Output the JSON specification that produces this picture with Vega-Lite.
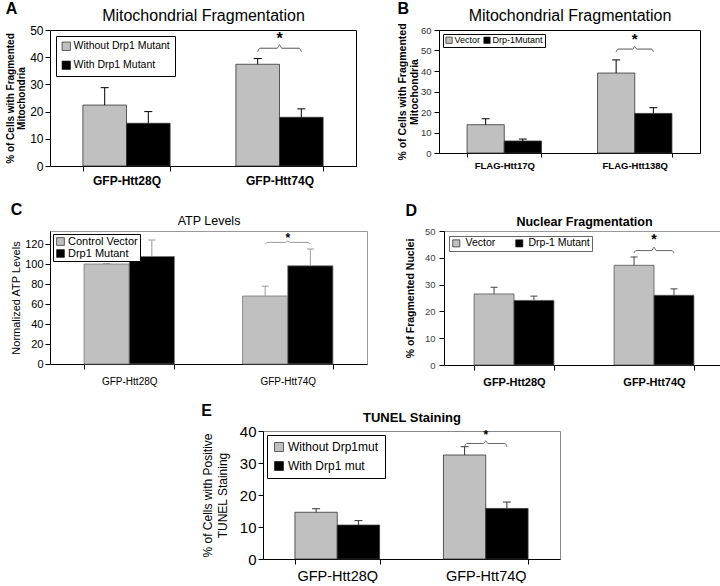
{
  "$schema": "https://vega.github.io/schema/vega-lite/v6.json",
  "padding": {"left": 5, "top": 0, "right": 0, "bottom": 0},
  "background": "#ffffff",
  "config": {
    "font": "Liberation Sans",
    "axis": {"grid": false, "labelOverlap": false, "labelBound": false, "labelColor": "#000", "titleColor": "#000", "domainColor": "#000", "tickColor": "#000", "labelFont": "Liberation Sans", "titleFont": "Liberation Sans"},
    "legend": {"labelColor": "#000", "labelFont": "Liberation Sans"},
    "title": {"color": "#000", "font": "Liberation Sans"},
    "view": {"stroke": "#000"}
  },
  "datasets": {
    "A": [
      {"g": "GFP-Htt28Q", "s": "Without Drp1 Mutant", "v": 22.4, "hi": 28.8},
      {"g": "GFP-Htt28Q", "s": "With Drp1 Mutant", "v": 15.7, "hi": 20.0},
      {"g": "GFP-Htt74Q", "s": "Without Drp1 Mutant", "v": 37.4, "hi": 39.5},
      {"g": "GFP-Htt74Q", "s": "With Drp1 Mutant", "v": 17.9, "hi": 21.0}
    ],
    "braceA": [
      {"x": 1.3575, "y": 42}, {"x": 1.372, "y": 43.3}, {"x": 1.485, "y": 43.3}, {"x": 1.5, "y": 44.5}, {"x": 1.515, "y": 43.3}, {"x": 1.628, "y": 43.3}, {"x": 1.6425, "y": 42}
    ],
    "starA": [{"x": 1.5, "y": 46.7, "t": "*"}],
    "B": [
      {"g": "FLAG-Htt17Q", "s": "Vector", "v": 13.8, "hi": 16.7},
      {"g": "FLAG-Htt17Q", "s": "Drp-1Mutant", "v": 5.85, "hi": 6.8},
      {"g": "FLAG-Htt138Q", "s": "Vector", "v": 39.0, "hi": 45.4},
      {"g": "FLAG-Htt138Q", "s": "Drp-1Mutant", "v": 19.3, "hi": 22.1}
    ],
    "braceB": [
      {"x": 1.3575, "y": 49.4}, {"x": 1.372, "y": 50.7}, {"x": 1.485, "y": 50.7}, {"x": 1.5, "y": 52}, {"x": 1.515, "y": 50.7}, {"x": 1.628, "y": 50.7}, {"x": 1.6425, "y": 49.4}
    ],
    "starB": [{"x": 1.5, "y": 55.6, "t": "*"}],
    "C": [
      {"g": "GFP-Htt28Q", "s": "Control Vector", "v": 100, "hi": 100.5},
      {"g": "GFP-Htt28Q", "s": "Drp1 Mutant", "v": 107.5, "hi": 124},
      {"g": "GFP-Htt74Q", "s": "Control Vector", "v": 68, "hi": 77.8},
      {"g": "GFP-Htt74Q", "s": "Drp1 Mutant", "v": 98.2, "hi": 115}
    ],
    "braceC": [
      {"x": 1.3575, "y": 120}, {"x": 1.372, "y": 121.6}, {"x": 1.485, "y": 121.6}, {"x": 1.5, "y": 123}, {"x": 1.515, "y": 121.6}, {"x": 1.628, "y": 121.6}, {"x": 1.6425, "y": 120}
    ],
    "starC": [{"x": 1.5, "y": 126.5, "t": "*"}],
    "D": [
      {"g": "GFP-Htt28Q", "s": "Vector", "v": 26.5, "hi": 29.0},
      {"g": "GFP-Htt28Q", "s": "Drp-1 Mutant", "v": 24.1, "hi": 25.7},
      {"g": "GFP-Htt74Q", "s": "Vector", "v": 37.2, "hi": 40.3},
      {"g": "GFP-Htt74Q", "s": "Drp-1 Mutant", "v": 26.0, "hi": 28.4}
    ],
    "braceD": [
      {"x": 1.3575, "y": 41.8}, {"x": 1.372, "y": 42.7}, {"x": 1.485, "y": 42.7}, {"x": 1.5, "y": 44}, {"x": 1.515, "y": 42.7}, {"x": 1.628, "y": 42.7}, {"x": 1.6425, "y": 41.8}
    ],
    "starD": [{"x": 1.5, "y": 46.6, "t": "*"}],
    "E": [
      {"g": "GFP-Htt28Q", "s": "Without Drp1mut", "v": 14.6, "hi": 15.7},
      {"g": "GFP-Htt28Q", "s": "With Drp1 mut", "v": 10.6, "hi": 12.0},
      {"g": "GFP-Htt74Q", "s": "Without Drp1mut", "v": 32.5, "hi": 35.1},
      {"g": "GFP-Htt74Q", "s": "With Drp1 mut", "v": 15.8, "hi": 17.8}
    ],
    "braceE": [
      {"x": 1.3575, "y": 35.1}, {"x": 1.372, "y": 36.1}, {"x": 1.485, "y": 36.1}, {"x": 1.5, "y": 36.9}, {"x": 1.515, "y": 36.1}, {"x": 1.628, "y": 36.1}, {"x": 1.6425, "y": 35.1}
    ],
    "starE": [{"x": 1.5, "y": 38.8, "t": "*"}]
  },
  "resolve": {"scale": {"color": "independent", "xOffset": "independent"}, "legend": {"color": "independent"}},
  "spacing": 14,
  "vconcat": [
    {
      "spacing": 39,
      "resolve": {"scale": {"color": "independent", "xOffset": "independent"}, "legend": {"color": "independent"}},
      "hconcat": [
        {
          "title": {"text": "A", "anchor": "start", "frame": "bounds", "fontSize": 16, "fontWeight": "bold", "offset": -10},
          "width": 306, "height": 136,
          "view": {"stroke": "#000"},
          "resolve": {"scale": {"x": "independent"}},
          "layer": [
            {
              "data": {"name": "A"},
              "encoding": {
                "x": {"field": "g", "type": "nominal", "sort": null, "scale": {"paddingInner": 0.43, "paddingOuter": 0.215}, "axis": {"title": null, "tickBand": "extent", "labelAngle": 0, "labelFontSize": 12, "labelFontWeight": "bold", "tickSize": 5, "labelPadding": 4}},
                "xOffset": {"field": "s", "type": "nominal", "sort": null, "scale": {"paddingInner": 0, "paddingOuter": 0}}
              },
              "layer": [
                {"mark": {"type": "bar", "stroke": "#333", "strokeWidth": 0.8},
                 "encoding": {
                   "y": {"field": "v", "type": "quantitative", "scale": {"domain": [0, 50], "nice": false}, "axis": {"values": [0, 10, 20, 30, 40, 50], "tickCount": 20, "labelOverlap": false, "title": ["% of Cells with Fragmented", "Mitochondria"], "titleFontSize": 10, "titleFontWeight": "bold", "titleLineHeight": 11, "titlePadding": 3, "labelFontSize": 12, "labelPadding": 2, "tickSize": 5}},
                   "color": {"field": "s", "type": "nominal", "sort": null, "scale": {"range": ["#c0c0c0", "#000000"]}, "legend": {"title": null, "orient": "top-left", "offset": 6, "strokeColor": "#000", "fillColor": "#fff", "padding": 5, "symbolType": "square", "symbolSize": 70, "symbolStrokeColor": "#000", "symbolStrokeWidth": 0.6, "labelFontSize": 10.5, "rowPadding": 7, "labelOffset": 2}}
                 }},
                {"mark": {"type": "rule", "color": "#000"}, "encoding": {"y": {"field": "v", "type": "quantitative"}, "y2": {"field": "hi"}}},
                {"mark": {"type": "point", "shape": "M-1,0H1", "size": 64, "stroke": "#000", "strokeWidth": 1, "opacity": 1}, "encoding": {"y": {"field": "hi", "type": "quantitative"}}}
              ]
            },
            {
              "encoding": {"x": {"field": "x", "type": "quantitative", "scale": {"domain": [0, 2], "nice": false, "zero": false}, "axis": {"orient": "top", "title": "Mitochondrial Fragmentation", "domain": false, "ticks": false, "labels": false, "titleFontSize": 16, "titleFontWeight": "normal", "titlePadding": 7}}},
              "layer": [
                {"data": {"name": "braceA"}, "mark": {"type": "line", "interpolate": "monotone", "stroke": "#555", "strokeWidth": 1}, "encoding": {"y": {"field": "y", "type": "quantitative"}}},
                {"data": {"name": "starA"}, "mark": {"type": "text", "fontSize": 16, "fontWeight": "bold", "baseline": "middle"}, "encoding": {"y": {"field": "y", "type": "quantitative"}, "text": {"field": "t"}}}
              ]
            }
          ]
        },
        {
          "title": {"text": "B", "anchor": "start", "frame": "bounds", "fontSize": 16, "fontWeight": "bold", "offset": -10},
          "width": 261, "height": 123,
          "view": {"stroke": "#000"},
          "resolve": {"scale": {"x": "independent"}},
          "layer": [
            {
              "data": {"name": "B"},
              "encoding": {
                "x": {"field": "g", "type": "nominal", "sort": null, "scale": {"paddingInner": 0.43, "paddingOuter": 0.215}, "axis": {"title": null, "tickBand": "extent", "labelAngle": 0, "labelFontSize": 9.5, "labelFontWeight": "bold", "tickSize": 4, "labelPadding": 3}},
                "xOffset": {"field": "s", "type": "nominal", "sort": null, "scale": {"paddingInner": 0, "paddingOuter": 0}}
              },
              "layer": [
                {"mark": {"type": "bar", "stroke": "#333", "strokeWidth": 0.8},
                 "encoding": {
                   "y": {"field": "v", "type": "quantitative", "scale": {"domain": [0, 60], "nice": false}, "axis": {"values": [0, 10, 20, 30, 40, 50, 60], "tickCount": 20, "labelOverlap": false, "title": ["% of Cells with Fragmented", "Mitochondria"], "titleFontSize": 10.5, "titleFontWeight": "bold", "titleLineHeight": 12, "titlePadding": 1, "labelFontSize": 9.5, "labelColor": "#333", "labelPadding": 3, "tickSize": 5}},
                   "color": {"field": "s", "type": "nominal", "sort": null, "scale": {"range": ["#c0c0c0", "#000000"]}, "legend": {"title": null, "orient": "top-left", "offset": 4, "direction": "horizontal", "strokeColor": "#000", "fillColor": "#fff", "padding": 1.5, "symbolType": "square", "symbolSize": 40, "symbolStrokeColor": "#000", "symbolStrokeWidth": 0.6, "labelFontSize": 9, "columnPadding": 2, "labelOffset": 1}}
                 }},
                {"mark": {"type": "rule", "color": "#000"}, "encoding": {"y": {"field": "v", "type": "quantitative"}, "y2": {"field": "hi"}}},
                {"mark": {"type": "point", "shape": "M-1,0H1", "size": 64, "stroke": "#000", "strokeWidth": 1, "opacity": 1}, "encoding": {"y": {"field": "hi", "type": "quantitative"}}}
              ]
            },
            {
              "encoding": {"x": {"field": "x", "type": "quantitative", "scale": {"domain": [0, 2], "nice": false, "zero": false}, "axis": {"orient": "top", "title": "Mitochondrial Fragmentation", "domain": false, "ticks": false, "labels": false, "titleFontSize": 16, "titleFontWeight": "normal", "titlePadding": 7}}},
              "layer": [
                {"data": {"name": "braceB"}, "mark": {"type": "line", "interpolate": "monotone", "stroke": "#555", "strokeWidth": 1}, "encoding": {"y": {"field": "y", "type": "quantitative"}}},
                {"data": {"name": "starB"}, "mark": {"type": "text", "fontSize": 15, "fontWeight": "bold", "baseline": "middle"}, "encoding": {"y": {"field": "y", "type": "quantitative"}, "text": {"field": "t"}}}
              ]
            }
          ]
        }
      ]
    },
    {
      "spacing": 36,
      "resolve": {"scale": {"color": "independent", "xOffset": "independent"}, "legend": {"color": "independent"}},
      "hconcat": [
        {
          "title": {"text": "C", "anchor": "start", "frame": "bounds", "fontSize": 16, "fontWeight": "bold", "offset": -4},
          "width": 317, "height": 133,
          "view": {"stroke": "#999"},
          "resolve": {"scale": {"x": "independent"}},
          "layer": [
            {
              "data": {"name": "C"},
              "encoding": {
                "x": {"field": "g", "type": "nominal", "sort": null, "scale": {"paddingInner": 0.43, "paddingOuter": 0.215}, "axis": {"title": null, "tickBand": "extent", "labelAngle": 0, "labelFontSize": 10, "labelFontWeight": "normal", "tickSize": 5, "labelPadding": 7}},
                "xOffset": {"field": "s", "type": "nominal", "sort": null, "scale": {"paddingInner": 0, "paddingOuter": 0}}
              },
              "layer": [
                {"mark": {"type": "bar", "stroke": "#777", "strokeWidth": 0.8},
                 "encoding": {
                   "y": {"field": "v", "type": "quantitative", "scale": {"domain": [0, 133], "nice": false}, "axis": {"values": [0, 20, 40, 60, 80, 100, 120], "tickCount": 20, "labelOverlap": false, "title": "Normalized ATP Levels", "titleFontSize": 11, "titleFontWeight": "normal", "titlePadding": 3, "labelFontSize": 11, "labelPadding": 2, "tickSize": 5}},
                   "color": {"field": "s", "type": "nominal", "sort": null, "scale": {"range": ["#c0c0c0", "#000000"]}, "legend": {"title": null, "orient": "top-left", "offset": 3, "strokeColor": "#000", "fillColor": "#fff", "padding": 2, "symbolType": "square", "symbolSize": 60, "symbolStrokeColor": "#000", "symbolStrokeWidth": 0.6, "labelFontSize": 11, "rowPadding": 0, "labelOffset": 2}}
                 }},
                {"mark": {"type": "rule", "color": "#999"}, "encoding": {"y": {"field": "v", "type": "quantitative"}, "y2": {"field": "hi"}}},
                {"mark": {"type": "point", "shape": "M-1,0H1", "size": 49, "stroke": "#999", "strokeWidth": 1, "opacity": 1}, "encoding": {"y": {"field": "hi", "type": "quantitative"}}}
              ]
            },
            {
              "encoding": {"x": {"field": "x", "type": "quantitative", "scale": {"domain": [0, 2], "nice": false, "zero": false}, "axis": {"orient": "top", "title": "ATP Levels", "domain": false, "ticks": false, "labels": false, "titleFontSize": 12.5, "titleFontWeight": "normal", "titlePadding": 4}}},
              "layer": [
                {"data": {"name": "braceC"}, "mark": {"type": "line", "interpolate": "monotone", "stroke": "#999", "strokeWidth": 1}, "encoding": {"y": {"field": "y", "type": "quantitative"}}},
                {"data": {"name": "starC"}, "mark": {"type": "text", "fontSize": 12, "fontWeight": "bold", "baseline": "middle"}, "encoding": {"y": {"field": "y", "type": "quantitative"}, "text": {"field": "t"}}}
              ]
            }
          ]
        },
        {
          "title": {"text": "D", "anchor": "start", "frame": "bounds", "fontSize": 16, "fontWeight": "bold", "offset": -4},
          "width": 280, "height": 134,
          "view": {"stroke": "#999"},
          "resolve": {"scale": {"x": "independent"}},
          "layer": [
            {
              "data": {"name": "D"},
              "encoding": {
                "x": {"field": "g", "type": "nominal", "sort": null, "scale": {"paddingInner": 0.43, "paddingOuter": 0.215}, "axis": {"title": null, "tickBand": "extent", "labelAngle": 0, "labelFontSize": 11, "labelFontWeight": "bold", "tickSize": 5, "labelPadding": 6}},
                "xOffset": {"field": "s", "type": "nominal", "sort": null, "scale": {"paddingInner": 0, "paddingOuter": 0}}
              },
              "layer": [
                {"mark": {"type": "bar", "stroke": "#555", "strokeWidth": 0.8},
                 "encoding": {
                   "y": {"field": "v", "type": "quantitative", "scale": {"domain": [0, 50], "nice": false}, "axis": {"values": [0, 10, 20, 30, 40, 50], "tickCount": 20, "labelOverlap": false, "title": "% of Fragmented Nuclei", "titleFontSize": 10.5, "titleFontWeight": "bold", "titlePadding": 9, "labelFontSize": 9.5, "labelColor": "#444", "labelPadding": 4, "tickSize": 5}},
                   "color": {"field": "s", "type": "nominal", "sort": null, "scale": {"range": ["#c0c0c0", "#000000"]}, "legend": {"title": null, "orient": "top-left", "offset": 5, "direction": "horizontal", "strokeColor": "#666", "fillColor": "#fff", "padding": 2, "symbolType": "square", "symbolSize": 50, "symbolStrokeColor": "#000", "symbolStrokeWidth": 0.6, "labelFontSize": 10.5, "columnPadding": 18, "labelOffset": 4}}
                 }},
                {"mark": {"type": "rule", "color": "#444"}, "encoding": {"y": {"field": "v", "type": "quantitative"}, "y2": {"field": "hi"}}},
                {"mark": {"type": "point", "shape": "M-1,0H1", "size": 49, "stroke": "#444", "strokeWidth": 1, "opacity": 1}, "encoding": {"y": {"field": "hi", "type": "quantitative"}}}
              ]
            },
            {
              "encoding": {"x": {"field": "x", "type": "quantitative", "scale": {"domain": [0, 2], "nice": false, "zero": false}, "axis": {"orient": "top", "title": "Nuclear Fragmentation", "domain": false, "ticks": false, "labels": false, "titleFontSize": 12.5, "titleFontWeight": "bold", "titlePadding": 3}}},
              "layer": [
                {"data": {"name": "braceD"}, "mark": {"type": "line", "interpolate": "monotone", "stroke": "#666", "strokeWidth": 1}, "encoding": {"y": {"field": "y", "type": "quantitative"}}},
                {"data": {"name": "starD"}, "mark": {"type": "text", "fontSize": 14, "fontWeight": "bold", "baseline": "middle"}, "encoding": {"y": {"field": "y", "type": "quantitative"}, "text": {"field": "t"}}}
              ]
            }
          ]
        }
      ]
    },
    {
      "spacing": 10,
      "resolve": {"scale": {"color": "independent", "xOffset": "independent"}, "legend": {"color": "independent"}},
      "hconcat": [
        {
          "width": 140, "height": 10,
          "view": {"stroke": null},
          "data": {"values": [{"t": ""}]},
          "mark": {"type": "text"},
          "encoding": {"text": {"field": "t"}}
        },
        {
          "title": {"text": "E", "anchor": "start", "frame": "bounds", "fontSize": 16, "fontWeight": "bold", "offset": -8},
          "width": 297, "height": 128,
          "view": {"stroke": "#888"},
          "resolve": {"scale": {"x": "independent"}},
          "layer": [
            {
              "data": {"name": "E"},
              "encoding": {
                "x": {"field": "g", "type": "nominal", "sort": null, "scale": {"paddingInner": 0.43, "paddingOuter": 0.215}, "axis": {"title": null, "tickBand": "extent", "labelAngle": 0, "labelFontSize": 14.5, "labelFontWeight": "normal", "tickSize": 5, "labelPadding": 5}},
                "xOffset": {"field": "s", "type": "nominal", "sort": null, "scale": {"paddingInner": 0, "paddingOuter": 0}}
              },
              "layer": [
                {"mark": {"type": "bar", "stroke": "#333", "strokeWidth": 0.8},
                 "encoding": {
                   "y": {"field": "v", "type": "quantitative", "scale": {"domain": [0, 40], "nice": false}, "axis": {"values": [0, 10, 20, 30, 40], "tickCount": 20, "labelOverlap": false, "title": ["% of Cells with Positive", "TUNEL Staining"], "titleFontSize": 12, "titleFontWeight": "normal", "titleLineHeight": 15, "titlePadding": 10, "labelFontSize": 15, "labelPadding": 2, "tickSize": 5}},
                   "color": {"field": "s", "type": "nominal", "sort": null, "scale": {"range": ["#c0c0c0", "#000000"]}, "legend": {"title": null, "orient": "top-left", "offset": 4, "strokeColor": "#000", "fillColor": "#fff", "padding": 6, "symbolType": "square", "symbolSize": 80, "symbolStrokeColor": "#000", "symbolStrokeWidth": 0.6, "labelFontSize": 12, "rowPadding": 7, "labelOffset": 3}}
                 }},
                {"mark": {"type": "rule", "color": "#333"}, "encoding": {"y": {"field": "v", "type": "quantitative"}, "y2": {"field": "hi"}}},
                {"mark": {"type": "point", "shape": "M-1,0H1", "size": 64, "stroke": "#333", "strokeWidth": 1, "opacity": 1}, "encoding": {"y": {"field": "hi", "type": "quantitative"}}}
              ]
            },
            {
              "encoding": {"x": {"field": "x", "type": "quantitative", "scale": {"domain": [0, 2], "nice": false, "zero": false}, "axis": {"orient": "top", "title": "TUNEL Staining", "domain": false, "ticks": false, "labels": false, "titleFontSize": 13, "titleFontWeight": "bold", "titlePadding": 7}}},
              "layer": [
                {"data": {"name": "braceE"}, "mark": {"type": "line", "interpolate": "monotone", "stroke": "#666", "strokeWidth": 1}, "encoding": {"y": {"field": "y", "type": "quantitative"}}},
                {"data": {"name": "starE"}, "mark": {"type": "text", "fontSize": 12, "fontWeight": "bold", "baseline": "middle"}, "encoding": {"y": {"field": "y", "type": "quantitative"}, "text": {"field": "t"}}}
              ]
            }
          ]
        }
      ]
    }
  ]
}
